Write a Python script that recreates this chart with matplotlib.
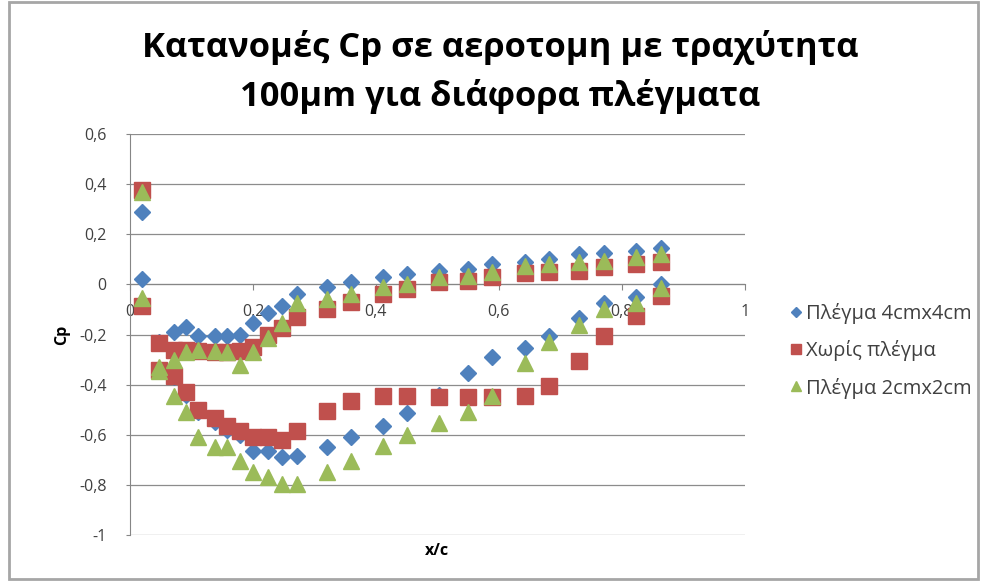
import matplotlib
matplotlib.use("Agg")
import matplotlib.pyplot as plt
from matplotlib.patches import Rectangle

plt.rcParams['font.family'] = ['Open Sans', 'DejaVu Sans']

title = "Κατανομές Cp σε αεροτομη με τραχύτητα\n100μm για διάφορα πλέγματα"
series_names = ["Πλέγμα 4cmx4cm", "Χωρίς πλέγμα", "Πλέγμα 2cmx2cm"]
colors = ["#4F81BD", "#C0504D", "#9BBB59"]

# pressure tap positions
x_stag = [0.019, 0.019]
x_taps = [0.047, 0.071, 0.091, 0.110, 0.138, 0.157, 0.179, 0.200, 0.224, 0.248,
          0.271, 0.320, 0.360, 0.411, 0.450, 0.502, 0.550, 0.589, 0.643, 0.682,
          0.731, 0.771, 0.823, 0.864]

# Πλέγμα 4cmx4cm
cp4_stag = [0.29, 0.02]
cp4_upper = [-0.23, -0.19, -0.17, -0.205, -0.205, -0.205, -0.20, -0.155, -0.115, -0.085,
             -0.04, -0.01, 0.01, 0.03, 0.04, 0.055, 0.06, 0.08, 0.09, 0.10,
             0.12, 0.125, 0.135, 0.145]
cp4_lower = [-0.34, -0.37, -0.44, -0.51, -0.55, -0.58, -0.60, -0.665, -0.665, -0.69,
             -0.685, -0.65, -0.61, -0.565, -0.515, -0.44, -0.355, -0.29, -0.255, -0.205,
             -0.135, -0.075, -0.05, 0.0]

# Χωρίς πλέγμα
cp0_stag = [0.375, -0.085]
cp0_upper = [-0.235, -0.26, -0.26, -0.265, -0.27, -0.27, -0.265, -0.25, -0.20, -0.175,
             -0.13, -0.10, -0.07, -0.04, -0.02, 0.01, 0.015, 0.03, 0.045, 0.05,
             0.055, 0.07, 0.08, 0.09]
cp0_lower = [-0.34, -0.365, -0.43, -0.50, -0.535, -0.565, -0.585, -0.61, -0.61, -0.62,
             -0.585, -0.505, -0.465, -0.445, -0.445, -0.45, -0.45, -0.45, -0.445, -0.405,
             -0.305, -0.205, -0.125, -0.045]

# Πλέγμα 2cmx2cm
cp2_stag = [0.37, -0.055]
cp2_upper = [-0.33, -0.30, -0.27, -0.26, -0.265, -0.27, -0.32, -0.27, -0.215, -0.155,
             -0.075, -0.06, -0.04, -0.01, 0.0, 0.03, 0.035, 0.05, 0.075, 0.08,
             0.09, 0.095, 0.11, 0.12]
cp2_lower = [-0.345, -0.445, -0.51, -0.61, -0.65, -0.65, -0.705, -0.75, -0.77, -0.795,
             -0.795, -0.75, -0.705, -0.645, -0.60, -0.555, -0.51, -0.445, -0.315, -0.23,
             -0.16, -0.10, -0.075, -0.015]

y_ticks = [-1, -0.8, -0.6, -0.4, -0.2, 0, 0.2, 0.4, 0.6]
y_tick_labels = ["-1", "-0,8", "-0,6", "-0,4", "-0,2", "0", "0,2", "0,4", "0,6"]
x_ticks = [0, 0.2, 0.4, 0.6, 0.8, 1]
x_tick_labels = ["0", "0,2", "0,4", "0,6", "0,8", "1"]

fig = plt.figure(figsize=(9.85, 5.81), dpi=100)
fig.patch.set_facecolor("white")
fig.add_artist(Rectangle((0.009, 0.004), 0.984, 0.992, transform=fig.transFigure,
                         fill=False, edgecolor="#a6a6a6", linewidth=2))
ax = fig.add_axes([0.132, 0.0792, 0.624, 0.690])

markers = ["D", "s", "^"]
sizes = [8.2, 11.5, 12]
data = [(cp4_stag, cp4_upper, cp4_lower), (cp0_stag, cp0_upper, cp0_lower),
        (cp2_stag, cp2_upper, cp2_lower)]
for name, col, mk, ms, (st, up, lo) in zip(series_names, colors, markers, sizes, data):
    xs = x_stag + x_taps + x_taps
    ys = st + up + lo
    ax.plot(xs, ys, linestyle="none", marker=mk, markersize=ms, color=col,
            markeredgecolor=col, label=name, zorder=3)

ax.set_xlim(0, 1)
ax.set_ylim(-1, 0.6)
ax.set_yticks(y_ticks)
ax.set_yticklabels(y_tick_labels)
ax.set_xticks(x_ticks)
ax.set_xticklabels(x_tick_labels)
ax.grid(axis="y", color="#8c8c8c", linewidth=0.9, zorder=0)
ax.set_axisbelow(True)
for s in ["top", "right"]:
    ax.spines[s].set_visible(False)
ax.spines["bottom"].set_position(("data", 0))
ax.spines["bottom"].set_color("#868686")
ax.spines["left"].set_color("#868686")
ax.tick_params(axis="y", length=3, color="#868686", labelsize=11.5, labelcolor="#404040", pad=14)
ax.tick_params(axis="x", length=4, color="#868686", labelsize=11.5, labelcolor="#404040", pad=10)

ax.set_ylabel("Cp", fontsize=11.5, fontweight="bold", labelpad=6)
fig.text(437/985, 1 - 551/581, "x/c", fontsize=11.5, fontweight="bold", ha="center", va="center")

fig.suptitle(title, x=0.508, y=0.948, fontsize=24.8, fontweight="bold", linespacing=1.5)

fig.legend(loc="center left", bbox_to_anchor=(0.798, 0.396), frameon=False,
           fontsize=14.5, handletextpad=0.0, labelspacing=0.8, handlelength=1.0,
           markerscale=0.6, labelcolor="#404040", borderpad=0, borderaxespad=0)

fig.savefig("out.png", dpi=100)
